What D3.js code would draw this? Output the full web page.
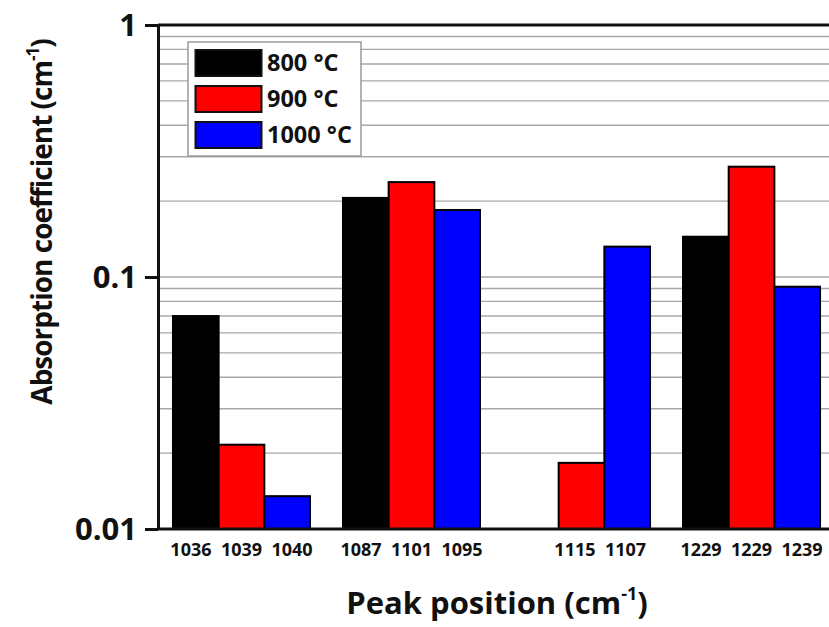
<!DOCTYPE html>
<html>
<head>
<meta charset="utf-8">
<script src="https://cdn.jsdelivr.net/npm/d3@7/dist/d3.min.js"></script>
<style>
  html, body { margin: 0; padding: 0; background: #fff; }
  svg { display: block; font-family: "Open Sans", "Noto Sans", sans-serif; font-weight: bold; }
  .peak-label { white-space: pre; }
</style>
</head>
<body>
<svg id="chart" width="829" height="627"></svg>
<script>
// Peak groups and anneal temperatures
const groups = ["A", "B", "C", "D"];
const series = ["800 °C", "900 °C", "1000 °C"];
const seriesColors = ["#000000", "#ff0000", "#0000ff"];

// Peak positions (cm^-1) listed under each group, one per temperature
const peaks800 = ["1036", "1087", "", "1229"];
const peaks900 = ["1039", "1101", "1115", "1229"];
const peaks1000 = ["1040", "1095", "1107", "1239"];

// Absorption coefficients (cm^-1)
const values800 = [0.070, 0.206, null, 0.1445];
const values900 = [0.0216, 0.238, 0.0183, 0.274];
const values1000 = [0.0135, 0.1845, 0.132, 0.0915];

const yTickValues = [0.01, 0.1, 1];

const peakLists = [peaks800, peaks900, peaks1000];
const valueLists = [values800, values900, values1000];

const svg = d3.select("#chart");
const W = 829, H = 627;
const plot = { left: 158, right: 835, top: 25, bottom: 529 };

svg.append("rect").attr("width", W).attr("height", H).attr("fill", "#fff");

const x0 = d3.scaleBand().domain(groups)
  .range([plot.left, plot.right])
  .paddingInner(0.194).paddingOuter(0.088);
const x1 = d3.scaleBand().domain(series).range([0, x0.bandwidth()]);
const y = d3.scaleLog().domain([0.01, 1]).range([plot.bottom, plot.top]);

// Log gridlines
const gridVals = y.ticks().filter(v => v > 0.0100001 && v < 0.99999);
svg.append("g").selectAll("line").data(gridVals).join("line")
  .attr("x1", plot.left).attr("x2", W)
  .attr("y1", d => y(d)).attr("y2", d => y(d))
  .attr("stroke", "#a8a8a8").attr("stroke-width", 1.4);

// Bars
const bars = [];
groups.forEach((g, gi) => {
  series.forEach((s, si) => {
    bars.push({ g, s, si, v: valueLists[si][gi] });
  });
});

svg.append("g").selectAll("rect").data(bars.filter(d => d.v != null)).join("rect")
  .attr("x", d => x0(d.g) + x1(d.s))
  .attr("y", d => y(d.v))
  .attr("width", x1.bandwidth())
  .attr("height", d => y(0.01) - y(d.v))
  .attr("fill", d => seriesColors[d.si])
  .attr("stroke", "#000").attr("stroke-width", 2);

// Category labels: the peak positions of a group on one line, blank slots kept as spaces
const groupLabels = groups.map((g, gi) =>
  peakLists.map(list => list[gi] || "      ").join("  "));
svg.append("g").selectAll("text").data(groups).join("text")
  .attr("class", "peak-label")
  .attr("xml:space", "preserve")
  .attr("x", g => x0(g) + x0.bandwidth() / 2)
  .attr("y", 556)
  .attr("text-anchor", "middle")
  .attr("font-size", 18)
  .attr("fill", "#111")
  .text((g, i) => groupLabels[i]);

// Frame lines (top and bottom)
svg.append("line").attr("x1", plot.left).attr("x2", W)
  .attr("y1", plot.top).attr("y2", plot.top)
  .attr("stroke", "#111").attr("stroke-width", 3);
svg.append("line").attr("x1", plot.left).attr("x2", W)
  .attr("y1", plot.bottom).attr("y2", plot.bottom)
  .attr("stroke", "#111").attr("stroke-width", 3);

// Y axis
const yAxis = d3.axisLeft(y)
  .tickValues(yTickValues)
  .tickFormat(d => String(d))
  .tickSize(13).tickSizeOuter(0).tickPadding(8);
const ya = svg.append("g").attr("transform", `translate(${plot.left},0)`).call(yAxis);
ya.select(".domain").attr("stroke", "#111").attr("stroke-width", 3);
ya.selectAll(".tick line").attr("stroke", "#111").attr("stroke-width", 3);
ya.selectAll(".tick text").attr("font-size", 31).attr("font-family", "Open Sans")
  .attr("font-weight", "bold").attr("fill", "#111").attr("dy", "0.35em");

// Legend
const lg = svg.append("g").attr("transform", "translate(188,42)");
lg.append("rect").attr("width", 173).attr("height", 114)
  .attr("fill", "#fff").attr("stroke", "#9a9a9a").attr("stroke-width", 1.5);
series.forEach((s, i) => {
  const row = lg.append("g").attr("transform", `translate(0,${8 + i * 36})`);
  row.append("rect").attr("x", 7.5).attr("y", 0).attr("width", 66).attr("height", 26)
    .attr("fill", seriesColors[i]).attr("stroke", "#111").attr("stroke-width", 2);
  row.append("text").attr("x", 79).attr("y", 13).attr("dy", "0.36em")
    .attr("font-size", 23.5).attr("fill", "#111").text(s);
});

// Axis titles
const xt = svg.append("text").attr("x", 497).attr("y", 614)
  .attr("text-anchor", "middle").attr("font-size", 31).attr("fill", "#111");
xt.append("tspan").text("Peak position (cm");
xt.append("tspan").attr("font-size", 18).attr("dy", -14).text("-1");
xt.append("tspan").attr("dy", 14).text(")");

const yt = svg.append("text")
  .attr("transform", "translate(52,222) rotate(-90)")
  .attr("text-anchor", "middle").attr("font-size", 28)
  .attr("letter-spacing", -1).attr("fill", "#111");
yt.append("tspan").text("Absorption coefficient (cm");
yt.append("tspan").attr("font-size", 17).attr("dy", -13).text("-1");
yt.append("tspan").attr("dy", 13).text(")");
</script>
</body>
</html>
